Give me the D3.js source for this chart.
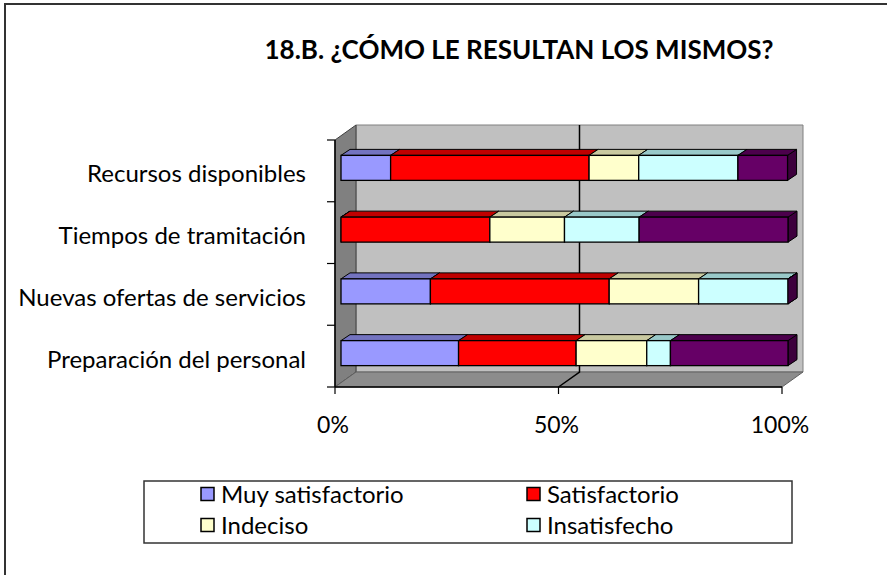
<!DOCTYPE html>
<html>
<head>
<meta charset="utf-8">
<script src="https://cdnjs.cloudflare.com/ajax/libs/d3/7.8.5/d3.min.js"></script>
<style>
  body { margin: 0; background: #fff; }
  text { font-family: Lato, "Open Sans", sans-serif; fill: #000; }
</style>
</head>
<body>
<div id="chart"></div>
<script>
// categories, top to bottom
var categories = ['Recursos disponibles', 'Tiempos de tramitación', 'Nuevas ofertas de servicios', 'Preparación del personal'];

// series values (percent of each row)
var seriesNames = ['Muy satisfactorio', 'Satisfactorio', 'Indeciso', 'Insatisfecho', 'Muy insatisfecho'];
var muySatisfactorio = [11.1, 0, 20, 26.3];
var satisfactorio = [44.4, 33.3, 40, 26.3];
var indeciso = [11.1, 16.7, 20, 15.8];
var insatisfecho = [22.2, 16.7, 20, 5.3];
var muyInsatisfecho = [11.1, 33.3, 0, 26.3];

var xTicks = [0, 50, 100];
var xTickLabels = ['0%', '50%', '100%'];

var colors = ['#9999FF', '#FF0000', '#FFFFCC', '#CCFFFF', '#660066'];
var topColors = ['#7373C0', '#C00000', '#C9C9A0', '#99C9C9', '#4C004C'];
var sideColors = ['#5C5C99', '#990000', '#A0A080', '#7AA0A0', '#3D003D'];

var w = 887, h = 575;

var svg = d3.select('#chart')
    .append('svg')
    .attr('width', w)
    .attr('height', h);

// outer chart border (right and bottom cut off)
svg.append('path')
    .attr('d', 'M5,575 L5,4 L887,4')
    .attr('fill', 'none')
    .attr('stroke', '#333')
    .attr('stroke-width', 2);

svg.append('text')
    .attr('x', 519)
    .attr('y', 59)
    .style('text-anchor', 'middle')
    .style('font-weight', 'bold')
    .style('font-size', '26px')
    .text('18.B. ¿CÓMO LE RESULTAN LOS MISMOS?');

// front plane scales
var xScale = d3.scaleLinear().domain([0, 100]).range([335, 782]);
var yScale = d3.scaleBand().domain(categories).range([140, 387]);

// depth of the 3D box
let depthX = 21, depthY = -15;
let floorY = 387, topY = 140;
let x0 = xScale(0), x1 = xScale(100);

// back wall
svg.append('path')
    .attr('d', 'M' + (x0 + depthX) + ',' + (topY + depthY) +
        ' L' + (x1 + depthX) + ',' + (topY + depthY) +
        ' L' + (x1 + depthX) + ',' + (floorY + depthY) +
        ' L' + (x0 + depthX) + ',' + (floorY + depthY) + 'Z')
    .attr('fill', '#C0C0C0')
    .attr('stroke', '#808080')
    .attr('stroke-width', 1);

// left wall
svg.append('path')
    .attr('d', 'M' + x0 + ',' + topY +
        ' L' + (x0 + depthX) + ',' + (topY + depthY) +
        ' L' + (x0 + depthX) + ',' + (floorY + depthY) +
        ' L' + x0 + ',' + floorY + 'Z')
    .attr('fill', '#808080')
    .attr('stroke', '#404040')
    .attr('stroke-width', 1);

// floor
svg.append('path')
    .attr('d', 'M' + x0 + ',' + floorY +
        ' L' + (x0 + depthX) + ',' + (floorY + depthY) +
        ' L' + (x1 + depthX) + ',' + (floorY + depthY) +
        ' L' + x1 + ',' + floorY + 'Z')
    .attr('fill', '#8C8C8C')
    .attr('stroke', '#606060')
    .attr('stroke-width', 1);

// gridlines on back wall and floor
svg.selectAll('gridlines')
    .data(xTicks.slice(1, -1))
    .enter()
    .append('path')
    .attr('d', function(d) {
        var x = xScale(d);
        return 'M' + x + ',' + floorY + ' L' + (x + depthX) + ',' + (floorY + depthY) +
            ' L' + (x + depthX) + ',' + (topY + depthY);
    })
    .attr('fill', 'none')
    .attr('stroke', '#000')
    .attr('stroke-width', 1.5);

// axes
svg.append('line')
    .attr('x1', x0).attr('x2', x0)
    .attr('y1', topY).attr('y2', floorY)
    .attr('stroke', '#000').attr('stroke-width', 1.5);
svg.append('line')
    .attr('x1', x0).attr('x2', x1)
    .attr('y1', floorY).attr('y2', floorY)
    .attr('stroke', '#000').attr('stroke-width', 1.5);

let yTickPos = categories.map(function(c) { return yScale(c); }).concat([floorY]);
svg.selectAll('yticks')
    .data(yTickPos)
    .enter()
    .append('line')
    .attr('x1', x0 - 8).attr('x2', x0)
    .attr('y1', function(d) { return d; })
    .attr('y2', function(d) { return d; })
    .attr('stroke', '#000').attr('stroke-width', 1.2);

svg.selectAll('xticks')
    .data(xTicks)
    .enter()
    .append('line')
    .attr('x1', function(d) { return xScale(d); })
    .attr('x2', function(d) { return xScale(d); })
    .attr('y1', floorY).attr('y2', floorY + 7)
    .attr('stroke', '#000').attr('stroke-width', 1.2);

svg.selectAll('xlabels')
    .data(xTicks)
    .enter()
    .append('text')
    .attr('x', function(d) { return xScale(d) - 2; })
    .attr('y', 433)
    .style('text-anchor', 'middle')
    .style('font-size', '23px')
    .text(function(d, i) { return xTickLabels[i]; });

svg.selectAll('ylabels')
    .data(categories)
    .enter()
    .append('text')
    .attr('x', 306)
    .attr('y', function(d) { return yScale(d) + yScale.bandwidth() / 2 + 3; })
    .attr('dy', '0.35em')
    .style('text-anchor', 'end')
    .style('font-size', '24px')
    .text(function(d) { return d; });

// stacked 3D bars
var series = [muySatisfactorio, satisfactorio, indeciso, insatisfecho, muyInsatisfecho];
let barOffX = 6, barOffY = -4, barH = 25, barDX = 9, barDY = -6;

var segs = [];
categories.forEach(function(c, ci) {
    let acc = 0;
    series.forEach(function(s, si) {
        segs.push({cat: c, s: si, start: acc, end: acc + s[ci]});
        acc += s[ci];
    });
});

function barTop(d) {
    return yScale(d.cat) + yScale.bandwidth() / 2 - barH / 2 + barOffY + 1;
}

let bars = svg.selectAll('barseg')
    .data(segs)
    .enter()
    .append('g');

bars.append('path')
    .attr('d', function(d) {
        var xe = xScale(d.end) + barOffX, yt = barTop(d);
        return 'M' + xe + ',' + yt + ' L' + (xe + barDX) + ',' + (yt + barDY) +
            ' L' + (xe + barDX) + ',' + (yt + barH + barDY) + ' L' + xe + ',' + (yt + barH) + 'Z';
    })
    .attr('fill', function(d) { return sideColors[d.s]; })
    .attr('stroke', '#000').attr('stroke-width', 1).attr('stroke-linejoin', 'round');

bars.append('path')
    .attr('d', function(d) {
        var xs = xScale(d.start) + barOffX, xe = xScale(d.end) + barOffX, yt = barTop(d);
        return 'M' + xs + ',' + yt + ' L' + (xs + barDX) + ',' + (yt + barDY) +
            ' L' + (xe + barDX) + ',' + (yt + barDY) + ' L' + xe + ',' + yt + 'Z';
    })
    .attr('fill', function(d) { return topColors[d.s]; })
    .attr('stroke', '#000').attr('stroke-width', 1).attr('stroke-linejoin', 'round');

bars.append('rect')
    .attr('x', function(d) { return xScale(d.start) + barOffX; })
    .attr('y', barTop)
    .attr('width', function(d) { return xScale(d.end) - xScale(d.start); })
    .attr('height', barH)
    .attr('fill', function(d) { return colors[d.s]; })
    .attr('stroke', '#000').attr('stroke-width', 1.3);

// legend (only the first four entries fit in the box)
svg.append('rect')
    .attr('x', 144).attr('y', 481)
    .attr('width', 648).attr('height', 62)
    .attr('fill', '#fff')
    .attr('stroke', '#333').attr('stroke-width', 1.5);

var legendItems = seriesNames.slice(0, 4);
let legend = svg.selectAll('legenditem')
    .data(legendItems)
    .enter()
    .append('g')
    .attr('transform', function(d, i) {
        return 'translate(' + (201 + (i % 2) * 326) + ',' + (494 + Math.floor(i / 2) * 31) + ')';
    });

legend.append('rect')
    .attr('x', 0).attr('y', -6.5)
    .attr('width', 13).attr('height', 13)
    .attr('fill', function(d, i) { return colors[i]; })
    .attr('stroke', '#000').attr('stroke-width', 1.5);

legend.append('text')
    .attr('x', 20)
    .attr('y', 0)
    .attr('dy', '0.36em')
    .style('font-size', '24px')
    .text(function(d) { return d; });
</script>
</body>
</html>
